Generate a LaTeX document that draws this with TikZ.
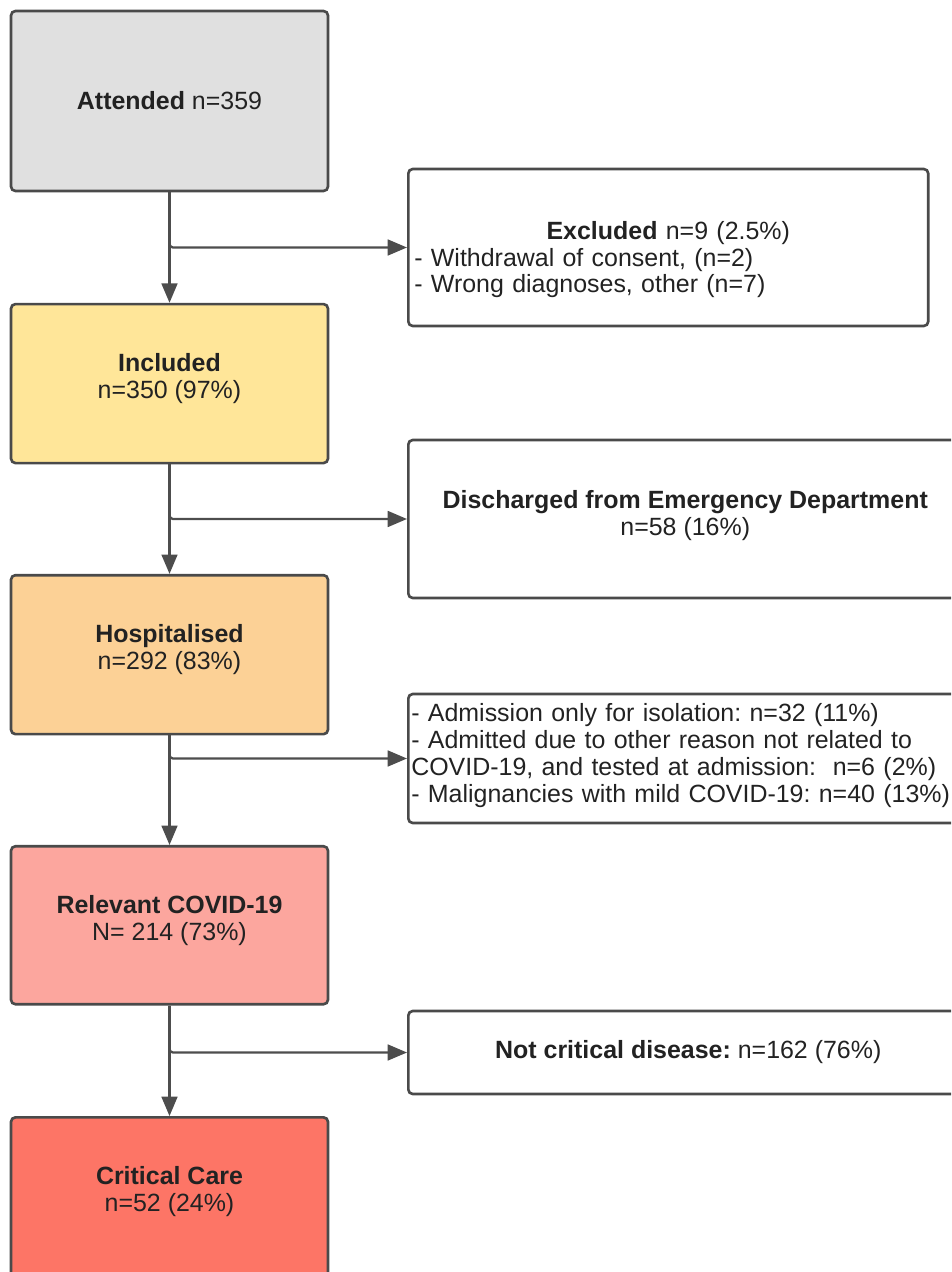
\documentclass[tikz,border=0pt]{standalone}
\usepackage{fontspec}
\setmainfont{Liberation Sans}
\usepackage{tikz}
\usetikzlibrary{positioning}
\usetikzlibrary{arrows.meta}
\frenchspacing

\definecolor{boxline}{HTML}{4A4A4A}
\definecolor{flowline}{HTML}{4D4D4D}
\definecolor{textcol}{HTML}{222222}
\definecolor{attendfill}{HTML}{E0E0E0}
\definecolor{inclfill}{HTML}{FFE699}
\definecolor{hospfill}{HTML}{FCD196}
\definecolor{relfill}{HTML}{FCA69E}
\definecolor{critfill}{HTML}{FD7566}

% extra depth under the last line, lifts the text a little
\newcommand{\padbelow}[1]{\rule[-#1]{0pt}{#1}}

\tikzset{
  stage/.style={draw=boxline, line width=1.5pt, rounded corners=2.5pt, minimum width=6.34cm, align=center, text=textcol, font=\fontsize{14.2}{15.3}\selectfont},
  side/.style={draw=boxline, line width=1.5pt, rounded corners=2.5pt, anchor=west, text=textcol, font=\fontsize{14.2}{15.3}\selectfont},
  flow/.style={draw=flowline, line width=1.3pt, rounded corners=2pt, -{Triangle[length=11pt,width=9pt]}}
}

\begin{document}
\begin{tikzpicture}[x=0.02cm, y=-0.02cm]
\clip (0,0) rectangle (951,1272);
% main column
\node (attended) [stage, fill=attendfill, minimum height=3.6cm] at (169.5,101) {\textbf{Attended} n=359};
\node (included) [stage, fill=inclfill, minimum height=3.18cm, below=2.21cm of attended] {\textbf{Included}\\n=350 (97\%)\padbelow{8.6pt}};
\node (hosp) [stage, fill=hospfill, minimum height=3.18cm, below=2.19cm of included] {\textbf{Hospitalised}\\n=292 (83\%)\padbelow{8.6pt}};
\node (relevant) [stage, fill=relfill, minimum height=3.16cm, below=2.19cm of hosp] {\textbf{Relevant COVID-19}\\N= 214 (73\%)\padbelow{8.6pt}};
\node (critical) [stage, fill=critfill, minimum height=3.18cm, below=2.21cm of relevant] {\textbf{Critical Care}\\n=52 (24\%)\padbelow{8.6pt}};
% side boxes
\node (excluded) [side, minimum width=10.4cm, minimum height=3.14cm, inner xsep=0.12cm, text width=10.16cm, align=left] at (407,247.5)
  {{\centering\rule{0pt}{24pt}\textbf{Excluded} n=9 (2.5\%)\par}- Withdrawal of consent, (n=2)\\- Wrong diagnoses, other (n=7)};
\node (discharged) [side, minimum width=11.08cm, minimum height=3.16cm, align=center] at (407,519)
  {\textbf{Discharged from Emergency Department}\\n=58 (16\%)\padbelow{7pt}};
\node (reasons) [side, minimum width=11.16cm, minimum height=2.58cm, inner xsep=0.06cm, text width=11.04cm, align=left] at (407,758.5)
  {- Admission only for isolation: n=32 (11\%)\\- Admitted due to other reason not related to\\COVID-19, and tested at admission:\ \ n=6 (2\%)\\- Malignancies with mild COVID-19: n=40 (13\%)\padbelow{6pt}};
\node (notcrit) [side, minimum width=11.2cm, minimum height=1.66cm, align=center] at (407,1052.5)
  {\textbf{Not critical disease:} n=162 (76\%)};
% arrows
\draw [flow] (attended) -- (included);
\draw [flow] (included) -- (hosp);
\draw [flow] (hosp) -- (relevant);
\draw [flow] (relevant) -- (critical);
\draw [flow] (attended.south) |- (excluded);
\draw [flow] (included.south) |- (discharged);
\draw [flow] (hosp.south) |- (reasons);
\draw [flow] (relevant.south) |- (notcrit);
\end{tikzpicture}
\end{document}
